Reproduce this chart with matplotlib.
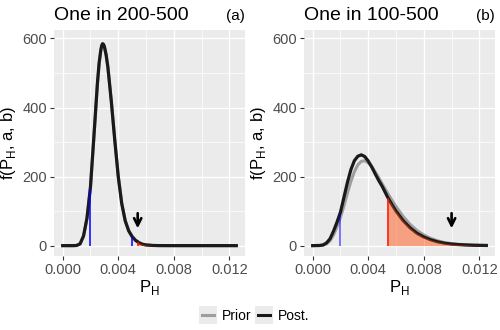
import matplotlib
matplotlib.use("Agg")
import matplotlib.pyplot as plt
import numpy as np
from matplotlib.lines import Line2D
from matplotlib.patches import Rectangle

plt.rcParams['font.family'] = ['Liberation Sans', 'DejaVu Sans']

# values, P_H in units of 1e-3
ph_a = [0, 0.5, 0.75, 1.0, 1.25, 1.5, 1.75, 2.0, 2.25, 2.5, 2.625, 2.75, 2.8125, 2.875, 2.9375,
        3.0, 3.125, 3.25, 3.5, 3.75, 4.0, 4.25, 4.5, 4.75, 5.0, 5.25, 5.4, 5.5, 5.75, 6.0,
        6.5, 7.0, 8.0, 9.0, 10.0, 11.0, 12.0, 12.5]
post_a = [0, 0, 0, 0.5, 5, 28, 80, 170, 318, 470, 530, 568, 580, 585, 583,
          577, 553, 518, 418, 305, 200, 122, 72, 43, 26, 15, 11, 8, 4, 2,
          0.5, 0.1, 0, 0, 0, 0, 0, 0]
prior_a = [0, 0, 0, 0.5, 5, 27, 79, 168, 315, 467, 527, 566, 578, 583, 582,
           576, 553, 519, 420, 307, 202, 124, 73, 44, 27, 16, 12, 9, 4, 2,
           0.5, 0.1, 0, 0, 0, 0, 0, 0]

ph_b = [0, 0.5, 0.75, 1.0, 1.25, 1.5, 1.75, 2.0, 2.25, 2.5, 2.75, 3.0, 3.25, 3.5, 3.75, 4.0,
        4.25, 4.5, 4.75, 5.0, 5.25, 5.4, 5.5, 5.75, 6.0, 6.5, 7.0, 7.5, 8.0, 8.5, 9.0, 9.5,
        10.0, 10.5, 11.0, 11.5, 12.0, 12.5]
post_b = [0, 0.5, 2, 8, 20, 42, 68, 97, 140, 183, 220, 246, 259, 263, 258, 245,
          228, 208, 189, 172, 152, 140, 133, 116, 100, 73, 52, 36, 25, 17, 11, 7,
          4.5, 3, 2, 1.2, 0.8, 0.5]
prior_b = [0, 0.3, 1.5, 5, 14, 31, 54, 82, 115, 152, 186, 214, 234, 244, 246, 240,
           229, 214, 197, 179, 162, 152, 145, 129, 113, 85, 62, 44, 31, 21, 14, 9,
           6, 4, 2.5, 1.6, 1, 0.6]

titles = ['One in 200-500', 'One in 100-500']
tags = ['(a)', '(b)']
blue_x = [[2.0, 5.0], [2.0, 10.0]]
blue_h = [[165, 26], [93, 5]]
red_x = [5.4, 5.4]
red_h = [11, 138]
arrow_x = [5.4, 10.0]

GREY_BG = '#EBEBEB'


def draw_panel(ax, ph, prior, post, i):
    x = np.array(ph) / 1000
    post = np.array(post)
    ax.set_facecolor(GREY_BG)
    for s in ax.spines.values():
        s.set_visible(False)
    ax.plot(x, prior, color='#9E9E9E', lw=2.2, zorder=3, solid_joinstyle='round')
    ax.plot(x, post, color='#1A1A1A', lw=2.3, zorder=4, solid_joinstyle='round')
    for bx, bh in zip(blue_x[i], blue_h[i]):
        ax.vlines(bx / 1000, 0, bh, color='blue', lw=1.1, alpha=1.0 if i == 0 else 0.65, zorder=5)
    ax.vlines(red_x[i] / 1000, 0, red_h[i], color='red', lw=1.1, zorder=5)
    m = x >= red_x[i] / 1000
    ax.fill_between(x[m], 0, post[m], color='orangered', alpha=0.45, lw=0, zorder=6)
    ax.annotate('', xy=(arrow_x[i] / 1000, 42), xytext=(arrow_x[i] / 1000, 102),
                arrowprops=dict(arrowstyle='->', lw=1.9, color='black', mutation_scale=13),
                zorder=7)

    ax.set_xlim(-0.000625, 0.013125)
    ax.set_ylim(-30, 626)
    ax.set_xticks([0, 0.004, 0.008, 0.012])
    ax.set_xticklabels(['0.000', '0.004', '0.008', '0.012'])
    ax.set_xticks([0.002, 0.006, 0.010], minor=True)
    ax.set_yticks([0, 200, 400, 600])
    ax.set_yticks([100, 300, 500], minor=True)
    ax.grid(which='major', color='white', lw=1.0)
    ax.grid(which='minor', color='white', lw=0.5)
    ax.set_axisbelow(True)
    ax.tick_params(which='major', length=3, width=0.8, color='#333333',
                   labelcolor='#4D4D4D', labelsize=10.5, pad=2)
    ax.tick_params(which='minor', length=0)

    ax.set_title(titles[i], loc='left', fontsize=14, pad=7)
    ax.set_title(tags[i], loc='right', fontsize=11, pad=7)
    ax.set_xlabel('P$_\\mathregular{H}$', fontsize=12, labelpad=1)
    ax.set_ylabel('f(P$_\\mathregular{H}$, a, b)', fontsize=12, labelpad=3)


fig = plt.figure(figsize=(5, 3.3), dpi=100)
ax1 = fig.add_axes([54 / 500, 1 - 256 / 330, 191 / 500, 226.5 / 330])
ax2 = fig.add_axes([304 / 500, 1 - 256 / 330, 191 / 500, 226.5 / 330])
draw_panel(ax1, ph_a, prior_a, post_a, 0)
draw_panel(ax2, ph_b, prior_b, post_b, 1)

# legend at the bottom, ggplot style keys
for kx, col, lab, tx in [(199, '#9E9E9E', 'Prior', 222), (255, '#1A1A1A', 'Post.', 278)]:
    fig.add_artist(Rectangle((kx / 500, 1 - 324 / 330), 17.5 / 500, 18 / 330,
                             transform=fig.transFigure, facecolor=GREY_BG, edgecolor='none'))
    fig.add_artist(Line2D([(kx + 2.5) / 500, (kx + 15) / 500], [1 - 315 / 330] * 2,
                          transform=fig.transFigure, color=col, lw=2.2))
    fig.text(tx / 500, 1 - 316 / 330, lab, fontsize=10, va='center', ha='left')

plt.savefig('out.png', dpi=100)
